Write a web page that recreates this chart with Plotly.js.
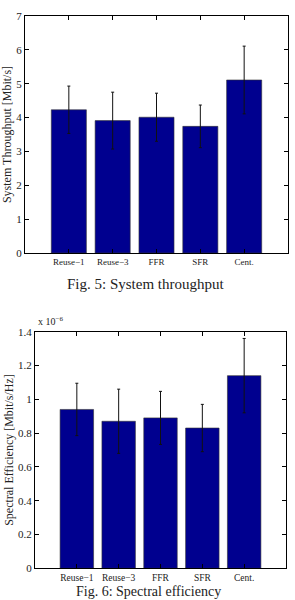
<!DOCTYPE html>
<html><head><meta charset="utf-8">
<script src="https://cdn.plot.ly/plotly-3.0.1.min.js"></script>
<style>html,body{margin:0;padding:0;background:#fff}#chart{width:295px;height:600px}</style>
</head><body><div id="chart"></div>
<script>
const categories = ["Reuse\u22121", "Reuse\u22123", "FFR", "SFR", "Cent."];
const throughput = [4.23, 3.91, 4.01, 3.74, 5.11];
const throughputErr = [0.70, 0.84, 0.71, 0.63, 1.00];
const spectral = [0.94, 0.87, 0.89, 0.83, 1.14];   // x 10^-6
const spectralErr = [0.155, 0.19, 0.157, 0.14, 0.22];
const tputTicks = [0, 1, 2, 3, 4, 5, 6, 7];
const specTicks = [0, 0.2, 0.4, 0.6, 0.8, 1, 1.2, 1.4];
const specTickText = ["0", "0.2", "0.4", "0.6", "0.8", "1", "1.2", "1.4"];

const serif = "Liberation Serif, Times New Roman, serif";
const barColor = "#00008F";
const idx = categories.map((_, i) => i);

function barTrace(vals, errs, xa, ya) {
  return {
    type: "bar", x: idx, y: vals, xaxis: xa, yaxis: ya, width: 0.8,
    marker: {color: barColor, line: {color: "#333", width: 0.6}},
    error_y: {type: "data", array: errs, visible: true, color: "#111", thickness: 1, width: 1.5},
    hoverinfo: "skip", showlegend: false
  };
}

const axBase = {
  showline: true, linecolor: "#000", linewidth: 1, mirror: "ticks",
  ticks: "inside", ticklen: 4, tickcolor: "#000", showgrid: false, zeroline: false,
  fixedrange: true
};

const layout = {
  width: 295, height: 600, margin: {l: 0, r: 0, t: 0, b: 0},
  paper_bgcolor: "#fff", plot_bgcolor: "#fff",
  font: {family: serif, color: "#222"},
  bargap: 0,
  xaxis: Object.assign({}, axBase, {
    domain: [25/295, 288/295], range: [-1, 5], anchor: "y",
    tickvals: idx, ticktext: categories, tickfont: {size: 9, family: serif}
  }),
  yaxis: Object.assign({}, axBase, {
    domain: [1 - 253/600, 1 - 16/600], range: [0, 7], anchor: "x",
    tickvals: tputTicks, tickfont: {size: 11, family: serif},
    title: {text: "System Throughput [Mbit/s]", font: {size: 12, family: serif}, standoff: 4}
  }),
  xaxis2: Object.assign({}, axBase, {
    domain: [35/295, 286/295], range: [-1, 5], anchor: "y2",
    tickvals: idx, ticktext: categories, tickfont: {size: 9.5, family: serif}
  }),
  yaxis2: Object.assign({}, axBase, {
    domain: [1 - 568.3/600, 1 - 331.7/600], range: [0, 1.4], anchor: "x2",
    tickvals: specTicks, ticktext: specTickText, tickfont: {size: 11, family: serif},
    title: {text: "Spectral Efficiency [Mbit/s/Hz]", font: {size: 12, family: serif}, standoff: 1}
  }),
  annotations: [
    {text: "Fig. 5: System throughput", xref: "paper", yref: "paper",
     x: 146/295, y: 1 - 284/600, xanchor: "center", yanchor: "middle",
     showarrow: false, font: {size: 15, family: serif, color: "#222"}},
    {text: "Fig. 6: Spectral efficiency", xref: "paper", yref: "paper",
     x: 148/295, y: -1/600, xanchor: "center", yanchor: "bottom",
     showarrow: false, font: {size: 14, family: serif, color: "#222"}},
    {text: "x 10<sup>\u22126</sup>", xref: "paper", yref: "paper",
     x: 36/295, y: 1 - 329/600, xanchor: "left", yanchor: "bottom",
     showarrow: false, font: {size: 10, family: serif, color: "#222"}}
  ]
};

Plotly.newPlot("chart", [
  barTrace(throughput, throughputErr, "x", "y"),
  barTrace(spectral, spectralErr, "x2", "y2")
], layout, {displayModeBar: false, staticPlot: true});
</script></body></html>
